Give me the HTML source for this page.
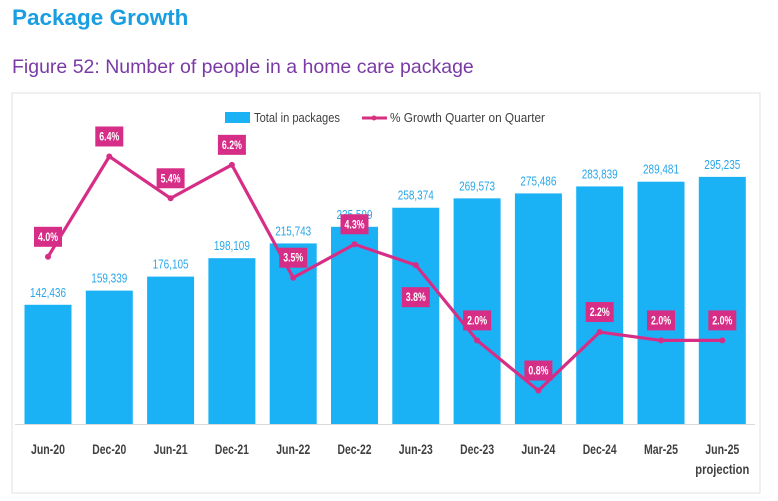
<!DOCTYPE html>
<html><head><meta charset="utf-8"><style>
body{margin:0;background:#fff;width:778px;height:501px;overflow:hidden;font-family:"Liberation Sans",sans-serif}
.t{position:absolute;left:12px;top:5px;font-size:22.5px;font-weight:bold;color:#1a9ee2}
.s{position:absolute;left:12px;top:56px;font-size:19.5px;color:#7a3aa6}
svg{position:absolute;left:0;top:0}
svg text{font-family:"Liberation Sans",sans-serif}
</style></head><body>
<div class="t">Package Growth</div>
<div class="s">Figure 52: Number of people in a home care package</div>
<svg id="c" width="778" height="501">
<rect x="12" y="93" width="748" height="400" fill="none" stroke="#e2e2e2"/>
<g>
<rect x="225" y="112" width="25" height="11" fill="#1ab2f5"/>
<text x="254" y="122" font-size="13" fill="#404040" textLength="86" lengthAdjust="spacingAndGlyphs">Total in packages</text>
<line x1="362" y1="118" x2="387" y2="118" stroke="#d6307f" stroke-width="3"/>
<circle cx="374" cy="118" r="2.5" fill="#d6307f"/>
<text x="390" y="122" font-size="13" fill="#404040" textLength="155" lengthAdjust="spacingAndGlyphs">% Growth Quarter on Quarter</text>
</g>
</svg>
<script>
const categories=["Jun-20","Dec-20","Jun-21","Dec-21","Jun-22","Dec-22","Jun-23","Dec-23","Jun-24","Dec-24","Mar-25","Jun-25"];
const totals=[142436,159339,176105,198109,215743,235599,258374,269573,275486,283839,289481,295235];
const growth=[4.0,6.4,5.4,6.2,3.5,4.3,3.8,2.0,0.8,2.2,2.0,2.0];
const growthLabelBelow=[false,false,false,false,false,false,true,false,false,false,false,false];
const svg=document.getElementById('c');const NS="http://www.w3.org/2000/svg";
const base=424,x0=48,step=61.3,bw=47;
const xs=i=>x0+i*step;
const yBar=v=>base-v*0.000837;
const yLine=v=>base-v*41.8;
function mk(t,a,p){const e=document.createElementNS(NS,t);for(const k in a)e.setAttribute(k,a[k]);(p||svg).appendChild(e);return e;}
categories.forEach((c,i)=>{
 const b=mk('rect',{x:xs(i)-bw/2,y:yBar(totals[i]),width:bw,height:base-yBar(totals[i]),fill:'#1ab2f5'});
 
 
 const t=mk('text',{x:xs(i)-18,y:yBar(totals[i])-8,'font-size':13,fill:'#2aa7e8',textLength:36,lengthAdjust:'spacingAndGlyphs'});
 t.textContent=totals[i].toLocaleString('en-US');
 
 
 const l=mk('text',{x:xs(i)-17,y:454,'font-size':13.5,'font-weight':'bold',fill:'#404040',textLength:34,lengthAdjust:'spacingAndGlyphs'});
 l.textContent=c;
 
 
});
const p2=mk('text',{x:xs(11)-27,y:474,'font-size':13.5,'font-weight':'bold',fill:'#404040',textLength:54,lengthAdjust:'spacingAndGlyphs'});
p2.textContent='projection';


const ax=mk('line',{x1:15,y1:base+0.5,x2:755,y2:base+0.5,stroke:'#d9d9d9'});


const pl=mk('polyline',{points:growth.map((v,i)=>xs(i)+','+yLine(v)).join(' '),fill:'none',stroke:'#d62e86','stroke-width':3.2,'stroke-linejoin':'round'});


growth.forEach((v,i)=>{
 const d=mk('circle',{cx:xs(i),cy:yLine(v),r:3,fill:'#d62e86'});
 
 
 const cy=growthLabelBelow[i]?yLine(v)+32:yLine(v)-20;
 const r=mk('rect',{x:xs(i)-14,y:cy-10,width:28,height:20,fill:'#d62e86'});
 
 
 const t=mk('text',{x:xs(i)-10,y:cy+4,'font-size':11.5,'font-weight':'bold',fill:'#fff',textLength:20,lengthAdjust:'spacingAndGlyphs'});
 t.textContent=v.toFixed(1)+'%';
 
 
});
</script>
</body></html>
